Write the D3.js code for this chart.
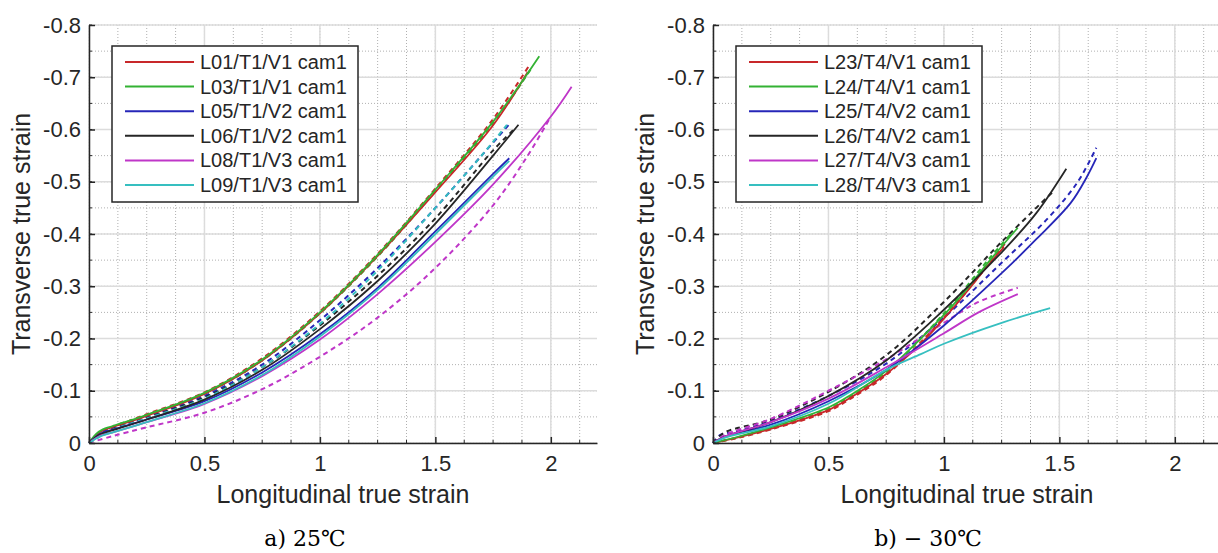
<!DOCTYPE html>
<html>
<head>
<meta charset="utf-8">
<script src="https://cdn.jsdelivr.net/npm/d3@7"></script>
<style>
  body { margin: 0; background: #fff; }
  svg { display: block; }
</style>
</head>
<body>
<script>
// tick values / labels
const xTicks = [0, 0.5, 1, 1.5, 2]
const xTickLabels = ['0', '0.5', '1', '1.5', '2']
const yTicks = [0, -0.1, -0.2, -0.3, -0.4, -0.5, -0.6, -0.7, -0.8]
const yTickLabels = ['0', '-0.1', '-0.2', '-0.3', '-0.4', '-0.5', '-0.6', '-0.7', '-0.8']

// panel a) 25°C  -- [longitudinal, transverse]
const L01 = [[0,0],[0.03,-0.015],[0.06,-0.024],[0.1,-0.03],[0.25,-0.052],[0.5,-0.094],[0.75,-0.158],[1.0,-0.248],[1.25,-0.358],[1.5,-0.48],[1.75,-0.608],[1.9,-0.71]]
const L01d = [[0,0],[0.05,-0.02],[0.1,-0.03],[0.25,-0.055],[0.5,-0.097],[0.75,-0.162],[1.0,-0.252],[1.25,-0.362],[1.5,-0.487],[1.75,-0.62],[1.91,-0.725]]
const L03 = [[0,0],[0.03,-0.017],[0.06,-0.026],[0.1,-0.032],[0.25,-0.054],[0.5,-0.096],[0.75,-0.16],[1.0,-0.25],[1.25,-0.36],[1.5,-0.485],[1.75,-0.615],[1.95,-0.74]]
const L03d = [[0,0],[0.1,-0.03],[0.25,-0.053],[0.5,-0.094],[0.75,-0.158],[1.0,-0.248],[1.25,-0.357],[1.5,-0.482],[1.75,-0.612],[1.92,-0.72]]
const L05 = [[0,0],[0.05,-0.018],[0.1,-0.025],[0.25,-0.045],[0.5,-0.08],[0.75,-0.135],[1.0,-0.208],[1.25,-0.297],[1.5,-0.405],[1.75,-0.515],[1.82,-0.545]]
const L05d = [[0,0],[0.05,-0.02],[0.1,-0.028],[0.25,-0.05],[0.5,-0.09],[0.75,-0.15],[1.0,-0.235],[1.25,-0.335],[1.5,-0.45],[1.7,-0.55],[1.82,-0.61]]
const L06 = [[0,0],[0.05,-0.017],[0.1,-0.024],[0.25,-0.045],[0.5,-0.083],[0.75,-0.14],[1.0,-0.218],[1.25,-0.31],[1.5,-0.42],[1.75,-0.55],[1.86,-0.609]]
const L06d = [[0,0],[0.1,-0.026],[0.25,-0.048],[0.5,-0.087],[0.75,-0.145],[1.0,-0.225],[1.25,-0.32],[1.5,-0.43],[1.75,-0.56],[1.84,-0.6]]
const L08 = [[0,0],[0.05,-0.014],[0.1,-0.02],[0.25,-0.04],[0.5,-0.075],[0.75,-0.128],[1.0,-0.198],[1.25,-0.285],[1.5,-0.385],[1.75,-0.495],[2.0,-0.625],[2.09,-0.682]]
const L08d = [[0,0],[0.1,-0.013],[0.25,-0.03],[0.5,-0.058],[0.75,-0.103],[1.0,-0.165],[1.25,-0.24],[1.5,-0.335],[1.75,-0.455],[1.9,-0.55],[2.0,-0.625]]
const L09 = [[0,0],[0.05,-0.013],[0.1,-0.02],[0.25,-0.04],[0.5,-0.076],[0.75,-0.13],[1.0,-0.204],[1.25,-0.293],[1.5,-0.4],[1.75,-0.51],[1.82,-0.54]]
const L09d = [[0,0],[0.1,-0.025],[0.25,-0.047],[0.5,-0.085],[0.75,-0.145],[1.0,-0.228],[1.25,-0.33],[1.5,-0.45],[1.7,-0.55],[1.81,-0.609]]

// panel b) -30°C
const L23 = [[0,0],[0.1,-0.01],[0.25,-0.027],[0.5,-0.063],[0.6,-0.088],[0.75,-0.132],[0.9,-0.19],[1.0,-0.238],[1.1,-0.29],[1.2,-0.345],[1.26,-0.375]]
const L23d = [[0,0],[0.1,-0.009],[0.25,-0.026],[0.5,-0.061],[0.6,-0.086],[0.75,-0.13],[1.0,-0.24],[1.15,-0.318],[1.27,-0.385]]
const L24 = [[0,0],[0.1,-0.011],[0.25,-0.03],[0.5,-0.068],[0.6,-0.093],[0.75,-0.138],[1.0,-0.245],[1.1,-0.295],[1.2,-0.35],[1.32,-0.412]]
const L24d = [[0,0],[0.1,-0.01],[0.25,-0.028],[0.5,-0.065],[0.6,-0.09],[0.75,-0.135],[1.0,-0.248],[1.2,-0.355],[1.3,-0.405]]
const L25 = [[0,0],[0.05,-0.012],[0.25,-0.035],[0.5,-0.08],[0.75,-0.14],[1.0,-0.225],[1.25,-0.325],[1.4,-0.39],[1.55,-0.46],[1.62,-0.51],[1.66,-0.545]]
const L25d = [[0,0],[0.03,-0.015],[0.1,-0.022],[0.25,-0.042],[0.5,-0.09],[0.75,-0.152],[1.0,-0.24],[1.25,-0.345],[1.45,-0.43],[1.58,-0.5],[1.66,-0.565]]
const L26 = [[0,0],[0.05,-0.012],[0.25,-0.04],[0.5,-0.09],[0.75,-0.158],[1.0,-0.255],[1.25,-0.365],[1.4,-0.44],[1.53,-0.525]]
const L26d = [[0,0],[0.05,-0.02],[0.25,-0.045],[0.5,-0.098],[0.75,-0.168],[1.0,-0.27],[1.25,-0.385],[1.47,-0.48]]
const L27 = [[0,0],[0.05,-0.012],[0.25,-0.04],[0.5,-0.085],[0.75,-0.145],[1.0,-0.21],[1.15,-0.25],[1.32,-0.285]]
const L27d = [[0,0],[0.05,-0.015],[0.25,-0.046],[0.5,-0.1],[0.75,-0.16],[1.0,-0.23],[1.15,-0.27],[1.32,-0.297]]
const L28 = [[0,0],[0.05,-0.01],[0.25,-0.032],[0.5,-0.075],[0.75,-0.14],[0.9,-0.17],[1.0,-0.19],[1.25,-0.23],[1.46,-0.258]]

const colors = ['#c8282a', '#33b233', '#2626b8', '#262626', '#bf36c8', '#36bfc0']

const namesA = ['L01/T1/V1 cam1', 'L03/T1/V1 cam1', 'L05/T1/V2 cam1', 'L06/T1/V2 cam1', 'L08/T1/V3 cam1', 'L09/T1/V3 cam1']
const namesB = ['L23/T4/V1 cam1', 'L24/T4/V1 cam1', 'L25/T4/V2 cam1', 'L26/T4/V2 cam1', 'L27/T4/V3 cam1', 'L28/T4/V3 cam1']

const solidA = [L01, L03, L05, L06, L08, L09]
const dashA = [L01d, L03d, L05d, L06d, L08d, L09d]
const solidB = [L23, L24, L25, L26, L27, L28]
const dashB = [L23d, L24d, L25d, L26d, L27d, null]

const W = 1218, H = 553
const pw = 508, ph = 418

const svg = d3.select('body').append('svg')
  .attr('width', W)
  .attr('height', H)
  .style('font-family', 'Liberation Sans, Arial, sans-serif')

const x = d3.scaleLinear().domain([0, 2.2]).range([0, pw])
const y = d3.scaleLinear().domain([0, -0.8]).range([ph, 0])

const line = d3.line()
  .x(d => x(d[0]))
  .y(d => y(d[1]))
  .curve(d3.curveCatmullRom)

function panel(left, names, solids, dashes, caption, capX) {
  const g = svg.append('g').attr('transform', `translate(${left} 25)`)

  // minor grid
  const xMinor = d3.range(0, 2.2001, 0.125)
  const yMinor = d3.range(0, -0.8001, -0.05)
  g.append('g').selectAll('line').data(xMinor).join('line')
    .attr('x1', d => x(d)).attr('x2', d => x(d)).attr('y1', 0).attr('y2', ph)
    .attr('stroke', '#b0b0b0').attr('stroke-width', 1).attr('stroke-dasharray', '1,2')
  g.append('g').selectAll('line').data(yMinor).join('line')
    .attr('y1', d => y(d)).attr('y2', d => y(d)).attr('x1', 0).attr('x2', pw)
    .attr('stroke', '#b0b0b0').attr('stroke-width', 1).attr('stroke-dasharray', '1,2')

  // major grid
  g.append('g').selectAll('line').data(xTicks).join('line')
    .attr('x1', d => x(d)).attr('x2', d => x(d)).attr('y1', 0).attr('y2', ph)
    .attr('stroke', '#dcdcdc').attr('stroke-width', 1.5)
  g.append('g').selectAll('line').data(yTicks).join('line')
    .attr('y1', d => y(d)).attr('y2', d => y(d)).attr('x1', 0).attr('x2', pw)
    .attr('stroke', '#dcdcdc').attr('stroke-width', 1.5)

  // dashed series
  dashes.forEach((s, i) => {
    if (!s) return
    g.append('path').datum(s)
      .attr('d', line)
      .attr('fill', 'none')
      .attr('stroke', colors[i])
      .attr('stroke-width', 2)
      .attr('stroke-dasharray', '5,4')
  })
  // solid series
  solids.forEach((s, i) => {
    g.append('path').datum(s)
      .attr('d', line)
      .attr('fill', 'none')
      .attr('stroke', colors[i])
      .attr('stroke-width', 1.8)
  })

  // axes (MATLAB style, ticks inward, box off)
  const xAxis = g.append('g').attr('transform', `translate(0 ${ph})`)
    .call(d3.axisBottom(x).tickValues(xTicks).tickFormat((d, i) => xTickLabels[i]).tickSizeInner(-6).tickSizeOuter(0).tickPadding(12))
  const yAxis = g.append('g')
    .call(d3.axisLeft(y).tickValues(yTicks).tickFormat((d, i) => yTickLabels[i]).tickSizeInner(-6).tickSizeOuter(0).tickPadding(8))
  ;[xAxis, yAxis].forEach(a => {
    a.select('.domain').attr('stroke', '#262626').attr('stroke-width', 1.5)
    a.selectAll('.tick line').attr('stroke', '#262626').attr('stroke-width', 1.5)
    a.selectAll('.tick text').attr('fill', '#262626').style('font-size', '22px')
      .style('font-family', 'Liberation Sans, Arial, sans-serif')
  })
  // minor ticks
  g.append('g').selectAll('line').data(xMinor.filter(v => !xTicks.includes(v))).join('line')
    .attr('x1', d => x(d)).attr('x2', d => x(d)).attr('y1', ph).attr('y2', ph - 3)
    .attr('stroke', '#262626').attr('stroke-width', 1)
  g.append('g').selectAll('line').data(yMinor).join('line')
    .attr('y1', d => y(d)).attr('y2', d => y(d)).attr('x1', 0).attr('x2', 3)
    .attr('stroke', '#262626').attr('stroke-width', 1)

  // axis titles
  g.append('text')
    .attr('x', pw / 2).attr('y', ph + 60)
    .attr('text-anchor', 'middle')
    .style('font-size', '25px').attr('fill', '#262626')
    .text('Longitudinal true strain')
  g.append('text')
    .attr('transform', `translate(${-59} ${ph / 2}) rotate(-90)`)
    .attr('text-anchor', 'middle')
    .style('font-size', '25px').attr('fill', '#262626')
    .text('Transverse true strain')

  // legend
  const lg = g.append('g').attr('transform', 'translate(23 21)')
  lg.append('rect').attr('width', 246).attr('height', 156)
    .attr('fill', '#fff').attr('stroke', '#262626').attr('stroke-width', 1.5)
  names.forEach((n, i) => {
    const yy = 16 + i * 24.6
    lg.append('line').attr('x1', 13).attr('x2', 82).attr('y1', yy).attr('y2', yy)
      .attr('stroke', colors[i]).attr('stroke-width', 2)
    lg.append('text').attr('x', 88).attr('y', yy + 7)
      .style('font-size', '20px').attr('fill', '#262626')
      .text(n)
  })

  // caption
  svg.append('text')
    .attr('x', capX).attr('y', 546)
    .attr('text-anchor', 'middle')
    .style('font-family', 'DejaVu Serif, serif')
    .style('font-size', '22px').attr('fill', '#000')
    .text(caption)
}

panel(89, namesA, solidA, dashA, 'a) 25℃', 305)
panel(713, namesB, solidB, dashB, 'b)  − 30℃', 928)
</script>
</body>
</html>
